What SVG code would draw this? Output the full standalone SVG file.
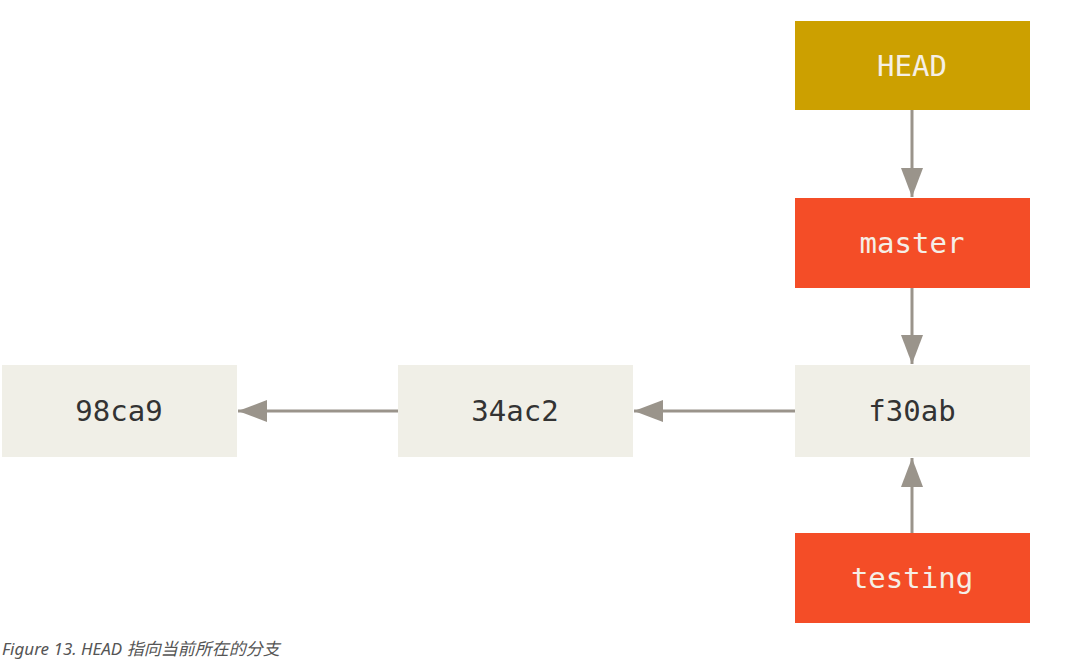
<svg xmlns="http://www.w3.org/2000/svg" width="1066" height="671" viewBox="0 0 1066 671">
<style>
.t{font-family:"DejaVu Sans Mono",monospace;font-size:29px;text-anchor:middle;dominant-baseline:central}
.lt{fill:#f5efe6}.dk{fill:#333}
.c{stroke:#9a948b;stroke-width:3;fill:none}
</style>
<defs><marker id="a" markerUnits="userSpaceOnUse" markerWidth="30" markerHeight="22" refX="29" refY="11" orient="auto"><path d="M0,0 L29,11 L0,22 Z" fill="#9a948b"/></marker></defs>
<rect width="1066" height="671" fill="#fff"/>
<g id="connectors">
<line class="c" x1="912" y1="110" x2="912" y2="197" marker-end="url(#a)"/>
<line class="c" x1="912" y1="288" x2="912" y2="364" marker-end="url(#a)"/>
<line class="c" x1="912" y1="533" x2="912" y2="458" marker-end="url(#a)"/>
<line class="c" x1="795" y1="411" x2="634" y2="411" marker-end="url(#a)"/>
<line class="c" x1="398" y1="411" x2="238" y2="411" marker-end="url(#a)"/>
</g>
<g id="head"><rect x="795" y="21" width="235" height="89" fill="#cca000"/><text class="t lt" x="912" y="66">HEAD</text></g>
<g id="master"><rect x="795" y="198" width="235" height="90" fill="#f44d27"/><text class="t lt" x="912" y="243">master</text></g>
<g id="f30ab"><rect x="795" y="365" width="235" height="92" fill="#f0efe7"/><text class="t dk" x="912" y="411">f30ab</text></g>
<g id="n34ac2"><rect x="398" y="365" width="235" height="92" fill="#f0efe7"/><text class="t dk" x="515" y="411">34ac2</text></g>
<g id="n98ca9"><rect x="2" y="365" width="235" height="92" fill="#f0efe7"/><text class="t dk" x="119" y="411">98ca9</text></g>
<g id="testing"><rect x="795" y="533" width="235" height="90" fill="#f44d27"/><text class="t lt" x="912" y="578">testing</text></g>
<text x="2" y="655" font-family="Noto Sans, Noto Sans CJK SC, sans-serif" font-style="italic" font-size="17" fill="#555">Figure 13. HEAD 指向当前所在的分支</text>
</svg>
